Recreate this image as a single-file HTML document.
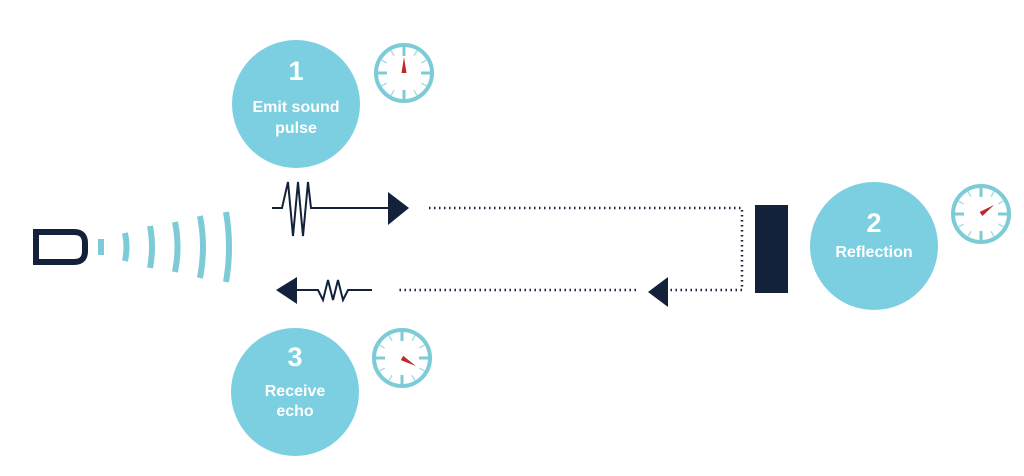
<!DOCTYPE html>
<html><head><meta charset="utf-8"><style>
html,body{margin:0;padding:0;background:#fff;width:1024px;height:476px;overflow:hidden}
svg{display:block}
text{font-family:"Liberation Sans",sans-serif;font-weight:bold;fill:#fff;text-anchor:middle}
</style></head><body>
<svg width="1024" height="476" viewBox="0 0 1024 476">
<defs>
<g id="clk">
<circle r="28" fill="#fff" stroke="#7ccbd6" stroke-width="4"/>
<g stroke="#7ccbd6" stroke-width="3">
<line x1="0" y1="-26" x2="0" y2="-17"/><line x1="0" y1="26" x2="0" y2="17"/>
<line x1="-26" y1="0" x2="-17" y2="0"/><line x1="26" y1="0" x2="17" y2="0"/>
</g>
<g stroke="#a9dde5" stroke-width="1.5">
<line x1="13" y1="-22.5" x2="10" y2="-17.3"/><line x1="22.5" y1="-13" x2="17.3" y2="-10"/>
<line x1="22.5" y1="13" x2="17.3" y2="10"/><line x1="13" y1="22.5" x2="10" y2="17.3"/>
<line x1="-13" y1="22.5" x2="-10" y2="17.3"/><line x1="-22.5" y1="13" x2="-17.3" y2="10"/>
<line x1="-22.5" y1="-13" x2="-17.3" y2="-10"/><line x1="-13" y1="-22.5" x2="-10" y2="-17.3"/>
</g>
</g>
<polygon id="hand" points="-2.5,0 0,-16 2.5,0" fill="#c0282a"/>
</defs>
<circle cx="296" cy="104" r="64" fill="#7ccfe0"/>
<text x="296" y="80" font-size="27">1</text>
<text x="296" y="112" font-size="16">Emit sound</text>
<text x="296" y="133" font-size="16">pulse</text>
<circle cx="874" cy="246" r="64" fill="#7ccfe0"/>
<text x="874" y="232" font-size="27">2</text>
<text x="874" y="257" font-size="16">Reflection</text>
<circle cx="295" cy="392" r="64" fill="#7ccfe0"/>
<text x="295" y="366" font-size="27">3</text>
<text x="295" y="396" font-size="16">Receive</text>
<text x="295" y="416" font-size="16">echo</text>
<g transform="translate(404,73)"><use href="#clk"/><use href="#hand"/></g>
<g transform="translate(981,214)"><use href="#clk"/><use href="#hand" transform="rotate(55)"/></g>
<g transform="translate(402,358)"><use href="#clk"/><use href="#hand" transform="rotate(120)"/></g>
<rect x="755" y="205" width="33" height="88" fill="#13213b"/>
<path d="M36,232 H74 Q85,232 85,243 V251 Q85,262 74,262 H36 Z" fill="none" stroke="#13213b" stroke-width="6"/>
<g fill="none" stroke="#7ccbd6" stroke-width="6">
<path d="M101,239 L101,255"/>
<path d="M125,233 Q128,247 125,261"/>
<path d="M150,226 Q154,247 150,268"/>
<path d="M175,222 Q180,247 175,272"/>
<path d="M200,216 Q206,247 200,278"/>
<path d="M226,212 Q232,247 226,282"/>
</g>
<path d="M272,208 H282 L288,182 L293,236 L298,182 L303,236 L308,182 L311,208 H390" fill="none" stroke="#13213b" stroke-width="2"/>
<polygon points="388,192 409,208 388,225" fill="#13213b"/>
<path d="M296,290 H318 L323,300 L328,280 L333,300 L338,280 L343,300 L348,290 H372" fill="none" stroke="#13213b" stroke-width="2"/>
<polygon points="297,277 276,290 297,304" fill="#13213b"/>
<g fill="none" stroke="#13213b" stroke-width="2.5" stroke-dasharray="1.5,3.5">
<path d="M429,208 H742 V290 H668"/>
<path d="M636,290 H396"/>
</g>
<polygon points="668,277 648,292 668,307" fill="#13213b"/>
</svg>
</body></html>
